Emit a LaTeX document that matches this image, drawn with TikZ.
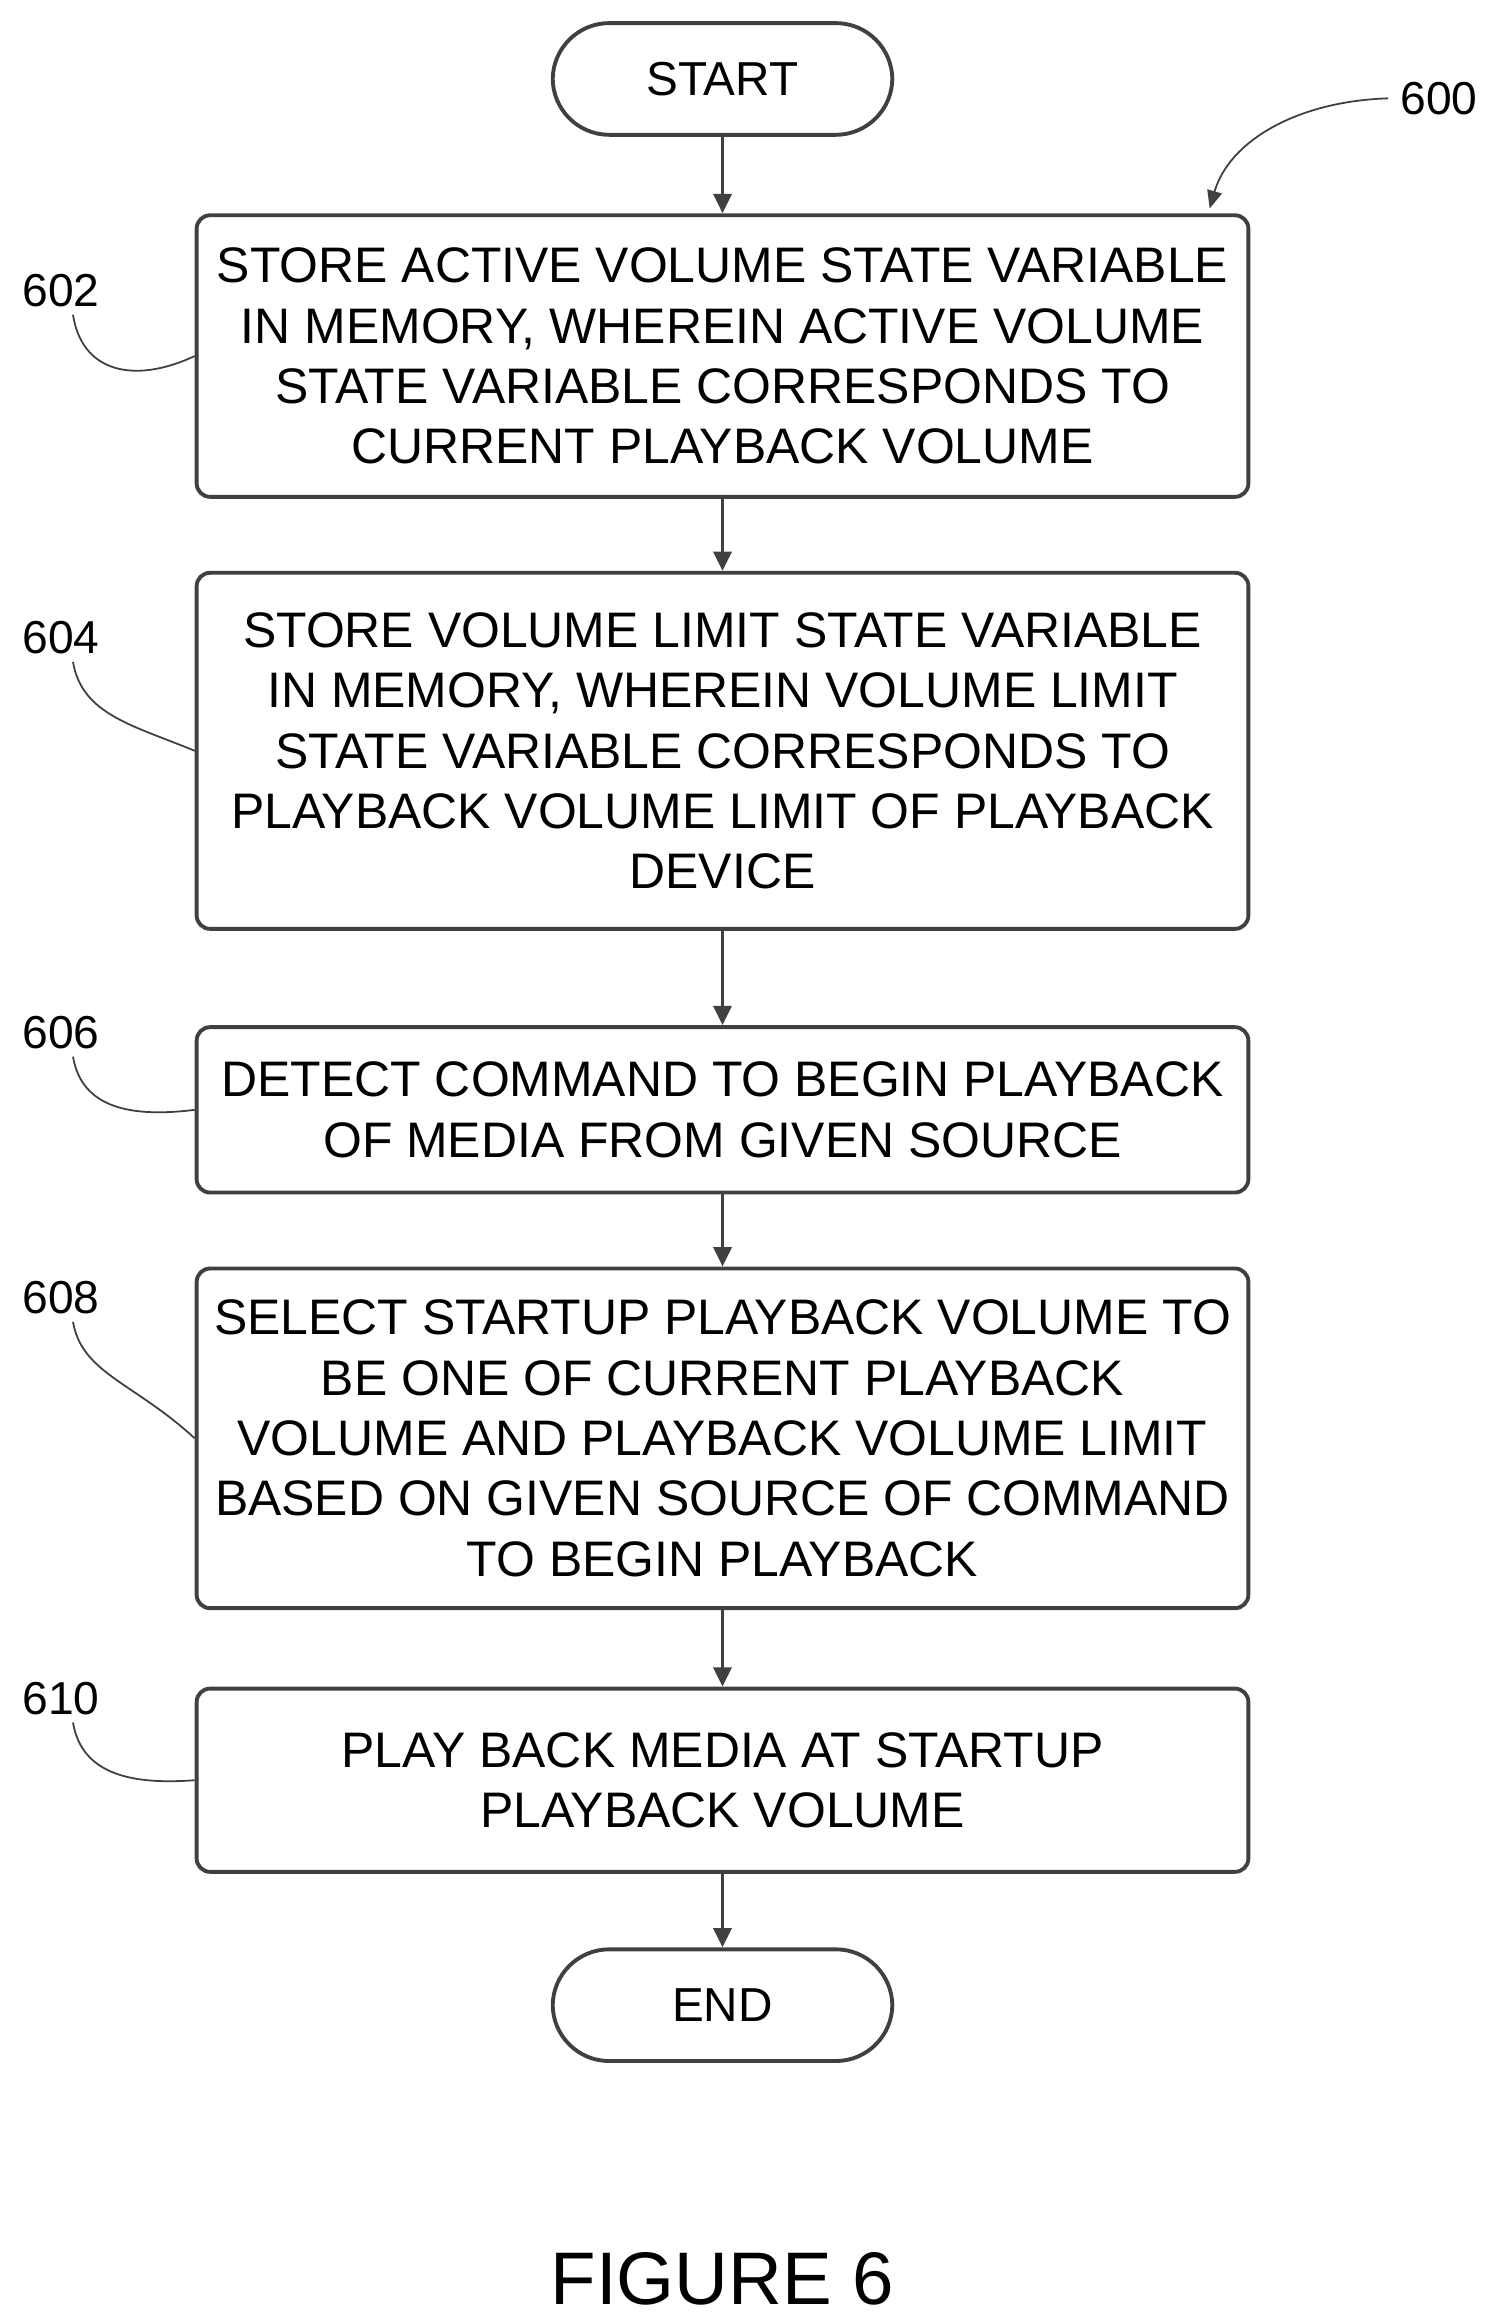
\documentclass[tikz,border=0pt]{standalone}
\usepackage{fontspec}
\setmainfont{Liberation Sans}
\usetikzlibrary{arrows.meta}
\begin{document}
\begin{tikzpicture}[x=1pt,y=-1pt,
  line width=2.6pt,
  every node/.style={draw=black!75,line width=2.6pt,inner sep=2pt},
  box/.style={rounded corners=9pt,minimum width=706pt,align=center,font=\fontsize{33.5}{40.5}\selectfont},
  term/.style={rounded corners=38pt,minimum width=228pt,minimum height=75pt,font=\fontsize{32}{36}\selectfont},
  lab/.style={draw=none,font=\fontsize{31}{36}\selectfont},
  arr/.style={draw=black!75,-{Triangle[length=13pt,width=12pt]}},
  lead/.style={draw=black!75,line width=1.2pt}]
\useasboundingbox (0,0) rectangle (1000,1556);
\node[term] (start) at (485,53) {START};
\node[box,minimum height=189pt] (b602) at (485,239) {STORE ACTIVE VOLUME STATE VARIABLE\\IN MEMORY, WHEREIN ACTIVE VOLUME\\STATE VARIABLE CORRESPONDS TO\\CURRENT PLAYBACK VOLUME};
\node[box,minimum height=239pt] (b604) at (485,504) {STORE VOLUME LIMIT STATE VARIABLE\\IN MEMORY, WHEREIN VOLUME LIMIT\\STATE VARIABLE CORRESPONDS TO\\PLAYBACK VOLUME LIMIT OF PLAYBACK\\DEVICE};
\node[box,minimum height=111pt] (b606) at (485,745) {DETECT COMMAND TO BEGIN PLAYBACK\\OF MEDIA FROM GIVEN SOURCE};
\node[box,minimum height=228pt] (b608) at (485,965.5) {SELECT STARTUP PLAYBACK VOLUME TO\\BE ONE OF CURRENT PLAYBACK\\VOLUME AND PLAYBACK VOLUME LIMIT\\BASED ON GIVEN SOURCE OF COMMAND\\TO BEGIN PLAYBACK};
\node[box,minimum height=123pt] (b610) at (485,1195) {PLAY BACK MEDIA AT STARTUP\\PLAYBACK VOLUME};
\node[term] (end) at (485,1346) {END};
\draw[arr] (start) -- (b602);
\draw[arr] (b602) -- (b604);
\draw[arr] (b604) -- (b606);
\draw[arr] (b606) -- (b608);
\draw[arr] (b608) -- (b610);
\draw[arr] (b610) -- (end);
\node[lab] (l600) at (966,66) {600};
\node[lab] (l602) at (41,195) {602};
\node[lab] (l604) at (41,428) {604};
\node[lab] (l606) at (41,693) {606};
\node[lab] (l608) at (41,871) {608};
\node[lab] (l610) at (41,1140) {610};
\draw[lead] (l602.south) ++(8,2) .. controls (55,250) and (90,258) .. (b602.west);
\draw[lead] (l604.south) ++(8,2) .. controls (55,480) and (90,487) .. (b604.west);
\draw[lead] (l606.south) ++(8,2) .. controls (55,745) and (90,750) .. (b606.west);
\draw[lead] (l608.south) ++(8,2) .. controls (55,922) and (90,928) .. (b608.west);
\draw[lead] (l610.south) ++(8,2) .. controls (55,1192) and (90,1198) .. (b610.west);
\coordinate (a600) at (812,140);
\draw[lead,-{Triangle[length=12pt,width=10pt]}] (l600.west) ++(-5,0) .. controls (870,68) and (825,95) .. (a600);
\node[lab,font=\fontsize{50}{56}\selectfont] (fig) at (485,1530) {FIGURE 6};
\end{tikzpicture}
\end{document}
